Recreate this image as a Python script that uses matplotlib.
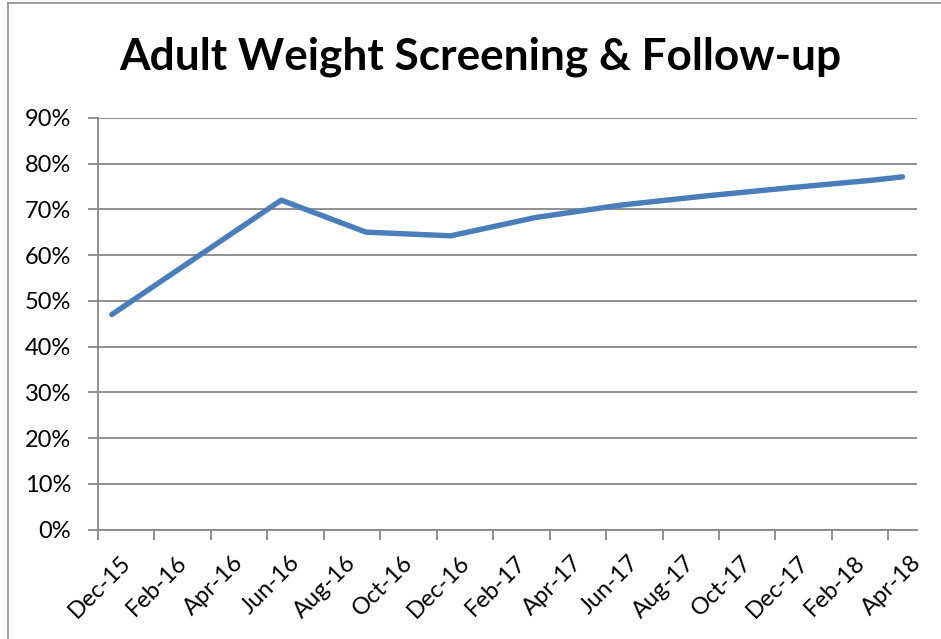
import pandas as pd
import matplotlib
matplotlib.use("Agg")
import matplotlib.pyplot as plt
import matplotlib.transforms as mtransforms
from matplotlib.ticker import PercentFormatter

point_months = ["2015-12", "2016-06", "2016-09", "2016-12", "2017-03", "2017-06",
                "2017-09", "2017-12", "2018-03", "2018-04"]
rates = [0.47, 0.72, 0.65, 0.642, 0.682, 0.709, 0.729, 0.747, 0.764, 0.771]

axis_start = pd.Period("2015-12", freq="M")
axis_end = pd.Period("2018-05", freq="M")
tick_months = pd.period_range("2015-12", "2018-04", freq="M")[::2]

plt.rcParams['font.family'] = ['Lato', 'DejaVu Sans']


def month_index(p):
    return (pd.Period(p, freq="M") - axis_start).n


xs = [month_index(m) + 0.5 for m in point_months]
tick_pos = [month_index(p) for p in tick_months]
tick_labels = [p.strftime("%b-%y") for p in tick_months]

fig = plt.figure(figsize=(9.41, 6.39), dpi=100)
ax = fig.add_axes([97.7 / 941, 1 - 529.5 / 639, (916.7 - 97.7) / 941, (529.5 - 117.8) / 639])

grid_col = "#878787"
ax.plot(xs, rates, color="#4A7EBB", linewidth=3.9, solid_capstyle="round",
        solid_joinstyle="round", zorder=3)

ax.set_xlim(0, month_index(axis_end))
ax.set_ylim(0, 0.9)
ax.set_yticks([i / 10 for i in range(10)])
ax.yaxis.set_major_formatter(PercentFormatter(1.0, decimals=0))
ax.grid(axis="y", color=grid_col, linewidth=1.3)
ax.set_axisbelow(True)

for s in ["top", "right"]:
    ax.spines[s].set_visible(False)
for s in ["left", "bottom"]:
    ax.spines[s].set_color(grid_col)
    ax.spines[s].set_linewidth(1.3)
ax.tick_params(axis="both", colors=grid_col, labelcolor="black", length=7, width=1.3)
ax.tick_params(axis="y", pad=12, labelsize=17)

ax.set_xticks(tick_pos)
ax.set_xticklabels(tick_labels, rotation=45, ha="right", va="top", rotation_mode="anchor",
                   fontsize=17)
offset = mtransforms.ScaledTranslation(22 / 100, -8 / 100, fig.dpi_scale_trans)
for lab in ax.get_xticklabels():
    lab.set_transform(lab.get_transform() + offset)

fig.text(480 / 941, 1 - 57 / 639, "Adult Weight Screening & Follow-up", ha="center", va="center",
         fontsize=31.8, fontweight="bold")

# chart border
fig.add_artist(plt.Line2D([8 / 941, 8 / 941], [0, 1 - 3 / 639], transform=fig.transFigure,
                          color="#8c8c8c", linewidth=1.2))
fig.add_artist(plt.Line2D([8 / 941, 1], [1 - 3 / 639, 1 - 3 / 639], transform=fig.transFigure,
                          color="#8c8c8c", linewidth=1.2))

fig.savefig("out.png", dpi=100)
